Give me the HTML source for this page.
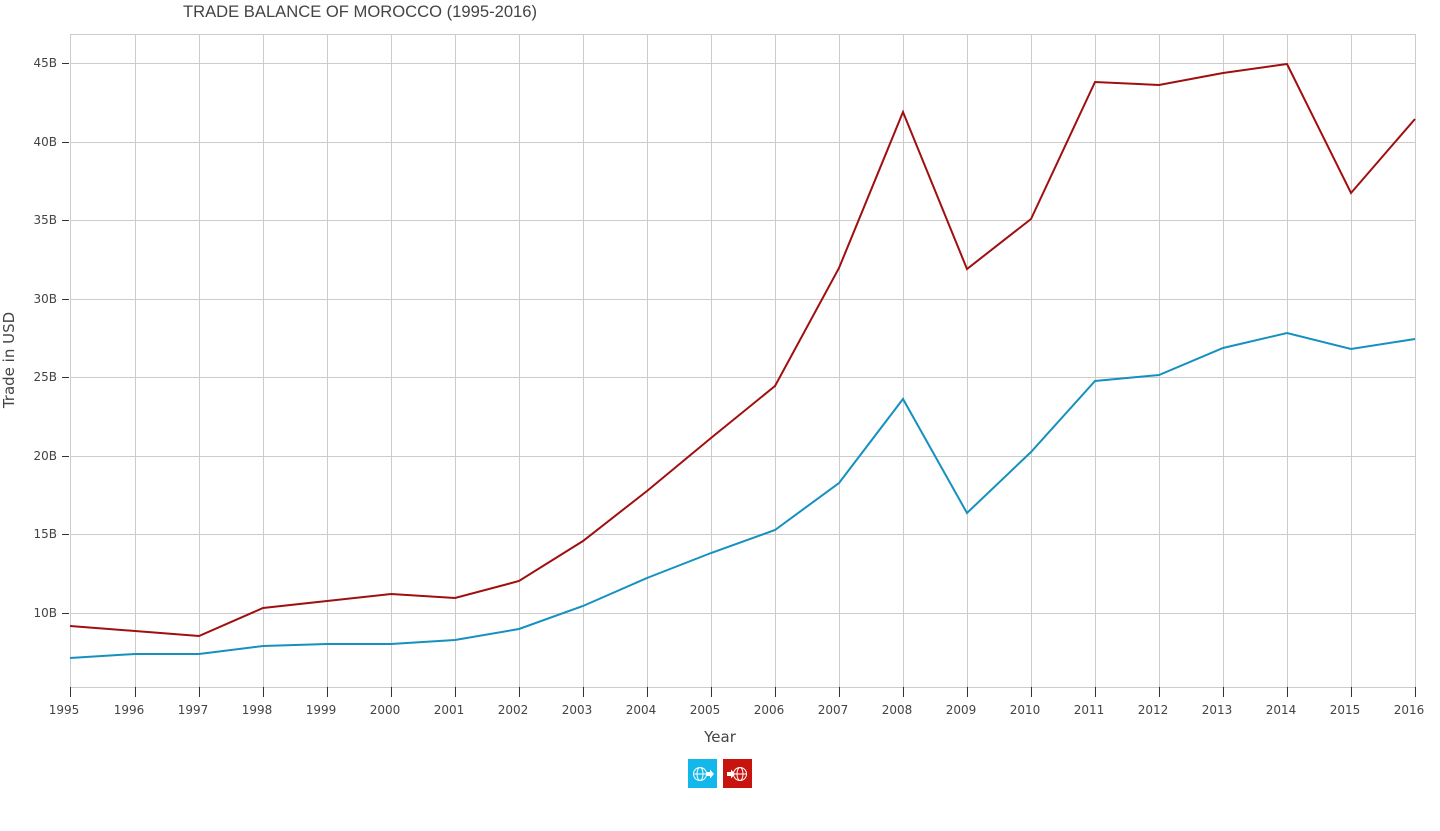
<!DOCTYPE html>
<html><head><meta charset="utf-8"><style>
body{margin:0;background:#fff;width:1440px;height:826px;overflow:hidden}
svg text{font-family:"DejaVu Sans","Liberation Sans",sans-serif;fill:#444}
</style></head><body>
<svg width="1440" height="826" viewBox="0 0 1440 826" xmlns="http://www.w3.org/2000/svg">
<text x="360" y="17" font-size="16.6" text-anchor="middle" style="font-family:'Liberation Sans',sans-serif">TRADE BALANCE OF MOROCCO (1995-2016)</text>
<g stroke="#cccccc" stroke-width="1" fill="none">
<rect x="70.5" y="34.5" width="1345" height="653"/>
<line x1="70" x2="1415" y1="63.5" y2="63.5"/><line x1="70" x2="1415" y1="142.5" y2="142.5"/><line x1="70" x2="1415" y1="220.5" y2="220.5"/><line x1="70" x2="1415" y1="299.5" y2="299.5"/><line x1="70" x2="1415" y1="377.5" y2="377.5"/><line x1="70" x2="1415" y1="456.5" y2="456.5"/><line x1="70" x2="1415" y1="534.5" y2="534.5"/><line x1="70" x2="1415" y1="613.5" y2="613.5"/>
<line x1="135.5" x2="135.5" y1="35" y2="687"/><line x1="199.5" x2="199.5" y1="35" y2="687"/><line x1="263.5" x2="263.5" y1="35" y2="687"/><line x1="327.5" x2="327.5" y1="35" y2="687"/><line x1="391.5" x2="391.5" y1="35" y2="687"/><line x1="455.5" x2="455.5" y1="35" y2="687"/><line x1="519.5" x2="519.5" y1="35" y2="687"/><line x1="583.5" x2="583.5" y1="35" y2="687"/><line x1="647.5" x2="647.5" y1="35" y2="687"/><line x1="711.5" x2="711.5" y1="35" y2="687"/><line x1="775.5" x2="775.5" y1="35" y2="687"/><line x1="839.5" x2="839.5" y1="35" y2="687"/><line x1="903.5" x2="903.5" y1="35" y2="687"/><line x1="967.5" x2="967.5" y1="35" y2="687"/><line x1="1031.5" x2="1031.5" y1="35" y2="687"/><line x1="1095.5" x2="1095.5" y1="35" y2="687"/><line x1="1159.5" x2="1159.5" y1="35" y2="687"/><line x1="1223.5" x2="1223.5" y1="35" y2="687"/><line x1="1287.5" x2="1287.5" y1="35" y2="687"/><line x1="1351.5" x2="1351.5" y1="35" y2="687"/>
</g>
<g stroke="#333" stroke-width="1">
<line x1="62" x2="69" y1="63.5" y2="63.5"/><line x1="62" x2="69" y1="142.5" y2="142.5"/><line x1="62" x2="69" y1="220.5" y2="220.5"/><line x1="62" x2="69" y1="299.5" y2="299.5"/><line x1="62" x2="69" y1="377.5" y2="377.5"/><line x1="62" x2="69" y1="456.5" y2="456.5"/><line x1="62" x2="69" y1="534.5" y2="534.5"/><line x1="62" x2="69" y1="613.5" y2="613.5"/>
</g>
<g font-size="12" text-anchor="end">
<text x="57" y="67">45B</text><text x="57" y="146">40B</text><text x="57" y="224">35B</text><text x="57" y="303">30B</text><text x="57" y="381">25B</text><text x="57" y="460">20B</text><text x="57" y="538">15B</text><text x="57" y="617">10B</text>
</g>
<g id="xt" stroke="#333"></g>
<g font-size="12" text-anchor="middle" id="xl"></g>
<polyline fill="none" stroke="#a00f0f" stroke-width="2" points="70,626 135,631 199,636 263,608 327,601 391,594 455,598 519,581 583,541 647,491 711,438 775,386 839,268 903,112 967,269 1031,219 1095,82 1159,85 1223,73 1287,64 1351,193 1415,119"/>
<polyline fill="none" stroke="#1590c0" stroke-width="2" points="70,658 135,654 199,654 263,646 327,644 391,644 455,640 519,629 583,606 647,578 711,553 775,530 839,483 903,399 967,513 1031,452 1095,381 1159,375 1223,348 1287,333 1351,349 1415,339"/>
<text x="720" y="742" font-size="15" text-anchor="middle">Year</text>
<text transform="translate(14,360) rotate(-90)" font-size="15" text-anchor="middle">Trade in USD</text>
<rect x="688" y="759" width="29" height="29" fill="#12b8ea"/>
<rect x="723" y="759" width="29" height="29" fill="#c8140f"/>
<g stroke="#fff" fill="none" stroke-width="1">
<circle cx="700" cy="774" r="6.5"/><line x1="693.5" x2="706.5" y1="774" y2="774"/><ellipse cx="700" cy="774" rx="3" ry="6.5"/>
<circle cx="740" cy="774" r="6.5"/><line x1="733.5" x2="746.5" y1="774" y2="774"/><ellipse cx="740" cy="774" rx="3" ry="6.5"/>
</g>
<polygon points="706,772 710,772 710,769.5 714,774 710,778.5 710,776 706,776" fill="#fff"/>
<polygon points="727,772 731,772 731,769.5 735,774 731,778.5 731,776 727,776" fill="#fff"/>
</svg>
<script>
var xt=document.getElementById('xt'),xl=document.getElementById('xl'),ns='http://www.w3.org/2000/svg';
var xs=[70,135,199,263,327,391,455,519,583,647,711,775,839,903,967,1031,1095,1159,1223,1287,1351,1415];
xs.forEach(function(x,i){var l=document.createElementNS(ns,'line');l.setAttribute('x1',x+.5);l.setAttribute('x2',x+.5);l.setAttribute('y1',687);l.setAttribute('y2',697);xt.appendChild(l);
var t=document.createElementNS(ns,'text');t.setAttribute('x',x-6);t.setAttribute('y',714);t.textContent=1995+i;xl.appendChild(t);});
</script>
</body></html>
